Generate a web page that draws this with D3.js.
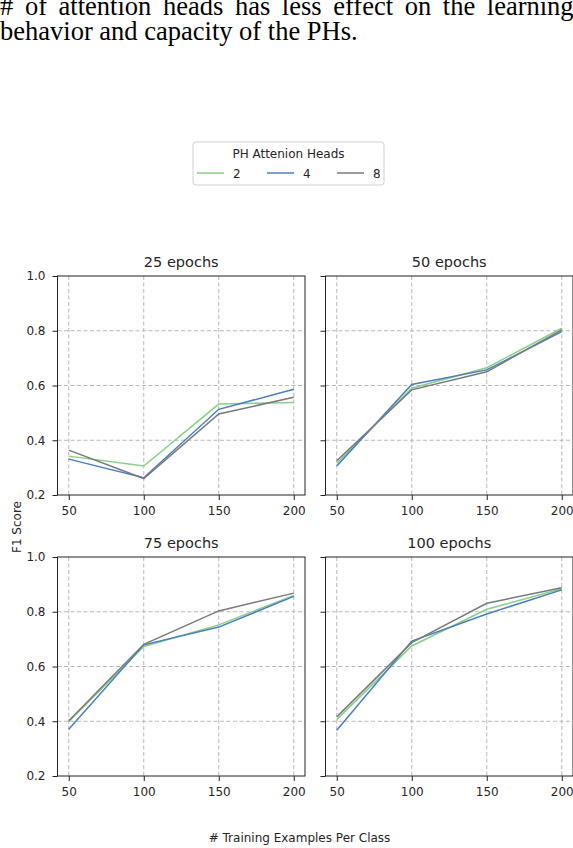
<!DOCTYPE html>
<html>
<head>
<meta charset="utf-8">
<script src="https://cdn.jsdelivr.net/npm/d3@7"></script>
<style>
  body { margin: 0; background: #fff; }
  svg { display: block; }
  .tick text { font-family: "DejaVu Sans", sans-serif; fill: #262626; }
</style>
</head>
<body>
<svg id="chart" width="573" height="848"></svg>
<script>
  // data
  const trainSizes = [50, 100, 150, 200];
  const yTicks = [0.2, 0.4, 0.6, 0.8, 1.0];
  const panelTitles = ["25 epochs", "50 epochs", "75 epochs", "100 epochs"];
  const headCounts = ["2", "4", "8"];
  const headColors = ["#86d086", "#4a7dc4", "#7a7a7a"];

  // one array per panel, one row per head count (2, 4, 8)
  const epochs25 = [
    [0.342, 0.306, 0.532, 0.538],
    [0.331, 0.263, 0.513, 0.586],
    [0.364, 0.260, 0.496, 0.557]
  ];
  const epochs50 = [
    [0.316, 0.590, 0.665, 0.809],
    [0.306, 0.604, 0.657, 0.797],
    [0.325, 0.584, 0.650, 0.803]
  ];
  const epochs75 = [
    [0.398, 0.673, 0.752, 0.860],
    [0.371, 0.679, 0.744, 0.856],
    [0.402, 0.681, 0.803, 0.868]
  ];
  const epochs100 = [
    [0.406, 0.675, 0.809, 0.884],
    [0.367, 0.693, 0.792, 0.880],
    [0.416, 0.687, 0.831, 0.888]
  ];
  const panels = [epochs25, epochs50, epochs75, epochs100];

  const svg = d3.select("#chart");
  svg.append("rect").attr("width", 573).attr("height", 848).attr("fill", "#fff");

  // caption text cut from the paper above the figure
  const caption = svg.append("g")
      .attr("font-family", "'Liberation Serif', 'Times New Roman', serif")
      .attr("font-size", 26.5)
      .attr("fill", "#000");
  caption.append("text").attr("x", 0).attr("y", 15)
      .attr("word-spacing", 5)
      .text("# of attention heads has less effect on the learning");
  caption.append("text").attr("x", 0).attr("y", 39.5)
      .text("behavior and capacity of the PHs.");

  const colLeft = [57.5, 325.5];
  const rowTop = [276, 557];
  const pw = 247.5, ph = 219;

  const x = d3.scaleLinear().domain([42.5, 207.5]).range([0, pw]);
  const y = d3.scaleLinear().domain([0.2, 1.0]).range([ph, 0]);

  const line = d3.line()
      .x((d, i) => x(trainSizes[i]))
      .y(d => y(d));

  panels.forEach((series, p) => {
    const col = p % 2, row = Math.floor(p / 2);
    const g = svg.append("g")
        .attr("transform", "translate(" + colLeft[col] + "," + rowTop[row] + ")");

    // grid
    g.append("g").selectAll("line")
      .data(trainSizes)
      .enter().append("line")
        .attr("x1", d => x(d)).attr("x2", d => x(d))
        .attr("y1", 0).attr("y2", ph)
        .attr("stroke", "#b8b8b8").attr("stroke-dasharray", "4,2.5");
    g.append("g").selectAll("line")
      .data(yTicks.slice(1, -1))
      .enter().append("line")
        .attr("x1", 0).attr("x2", pw)
        .attr("y1", d => y(d)).attr("y2", d => y(d))
        .attr("stroke", "#b8b8b8").attr("stroke-dasharray", "4,2.5");

    // lines
    series.forEach((vals, s) => {
      g.append("path")
        .datum(vals)
        .attr("fill", "none")
        .attr("stroke", headColors[s])
        .attr("stroke-width", 1.5)
        .attr("d", line);
    });

    // frame
    g.append("rect")
      .attr("width", pw).attr("height", ph)
      .attr("fill", "none").attr("stroke", "#222").attr("stroke-width", 1);

    // axes
    const xAxis = g.append("g")
        .attr("transform", "translate(0," + ph + ")")
        .call(d3.axisBottom(x).tickValues(trainSizes).tickSize(5).tickPadding(6).tickFormat(d3.format("d")));
    const yAxis = g.append("g")
        .call(d3.axisLeft(y).tickValues(yTicks).tickSize(5).tickPadding(7)
          .tickFormat(col === 0 ? d3.format(".1f") : () => ""));
    [xAxis, yAxis].forEach(a => {
      a.select(".domain").remove();
      a.selectAll(".tick line").attr("stroke", "#222");
      a.selectAll(".tick text").attr("font-size", 12).attr("font-family", "DejaVu Sans, sans-serif");
    });

    g.append("text")
      .attr("x", pw / 2).attr("y", -9.5)
      .attr("text-anchor", "middle")
      .attr("font-family", "DejaVu Sans, sans-serif")
      .attr("font-size", 14.5)
      .attr("fill", "#262626")
      .text(panelTitles[p]);
  });

  // shared axis labels
  svg.append("text")
    .attr("transform", "translate(21,527) rotate(-90)")
    .attr("text-anchor", "middle")
    .attr("font-family", "DejaVu Sans, sans-serif")
    .attr("font-size", 12)
    .attr("fill", "#262626")
    .text("F1 Score");

  svg.append("text")
    .attr("x", 299.5).attr("y", 842)
    .attr("text-anchor", "middle")
    .attr("font-family", "DejaVu Sans, sans-serif")
    .attr("font-size", 12)
    .attr("fill", "#262626")
    .text("# Training Examples Per Class");

  // legend
  const legend = svg.append("g").attr("transform", "translate(193,142)");
  legend.append("rect")
    .attr("width", 191).attr("height", 43).attr("rx", 3)
    .attr("fill", "#fff").attr("stroke", "#d0d0d0");
  legend.append("text")
    .attr("x", 95.5).attr("y", 16)
    .attr("text-anchor", "middle")
    .attr("font-family", "DejaVu Sans, sans-serif")
    .attr("font-size", 12)
    .attr("fill", "#262626")
    .text("PH Attenion Heads");
  const entry = legend.selectAll("g.entry")
    .data(headCounts)
    .enter().append("g")
      .attr("class", "entry")
      .attr("transform", (d, i) => "translate(" + (4 + i * 70) + ",31)");
  entry.append("line")
    .attr("x1", 0).attr("x2", 27)
    .attr("stroke", (d, i) => headColors[i]).attr("stroke-width", 1.5);
  entry.append("text")
    .attr("x", 36).attr("y", 4.5)
    .attr("font-family", "DejaVu Sans, sans-serif")
    .attr("font-size", 12)
    .attr("fill", "#262626")
    .text(d => d);
</script>
</body>
</html>
